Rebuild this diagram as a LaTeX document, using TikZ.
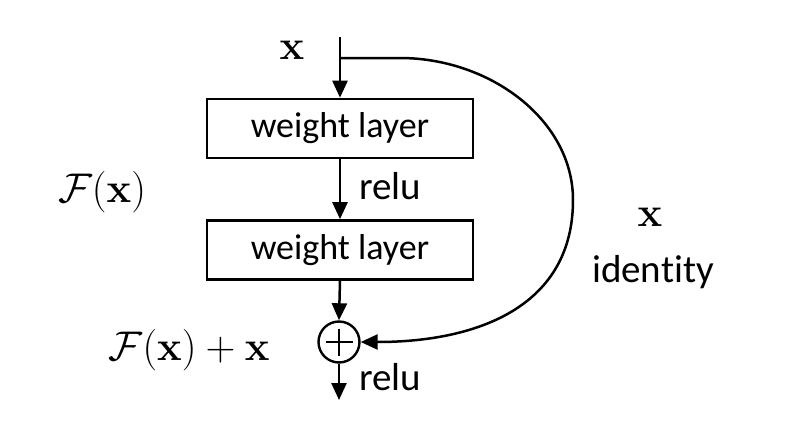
\documentclass[tikz,border=0pt]{standalone}
\usepackage[no-math]{fontspec}
\setmainfont{Carlito}[Ligatures=NoCommon]
\usetikzlibrary{arrows.meta}
\begin{document}
\begin{tikzpicture}[x=0.5pt,y=-0.5pt,
  layer/.style={draw,line width=1.3pt,minimum width=133pt,minimum height=29.5pt,inner sep=0pt,font=\fontsize{18}{20}\selectfont},
  conn/.style={line width=1.25pt,-{Triangle[length=8.5pt,width=7.5pt]}},
  lbl/.style={font=\fontsize{19.5}{22}\selectfont,inner sep=0pt},
  mlbl/.style={font=\fontsize{22}{26}\selectfont,inner sep=0pt},
  addop/.style={circle,draw,line width=1.2pt,minimum size=20.5pt,inner sep=0pt,
    path picture={\draw[line width=1.2pt] ([yshift=-3.5pt]path picture bounding box.north) -- ([yshift=3.5pt]path picture bounding box.south);
                  \draw[line width=1.2pt] ([xshift=3.5pt]path picture bounding box.west) -- ([xshift=-3.5pt]path picture bounding box.east);}}]
\useasboundingbox (0,0) rectangle (800,429);
\fill[white] (0,0) rectangle (800,429);
\coordinate (top) at (340,37);
\coordinate (br) at (340,58);
\coordinate (bot) at (339,400);
\node[layer] (w1) at (340,128.5) {weight layer};
\node[layer] (w2) at (340,250) {weight layer};
\node[addop] (plus) at (339,342) {};
\node[mlbl] (xin) at (292,50) {$\mathbf{x}$};
\node[lbl,anchor=west] (relu1) at (359,186) {relu};
\node[lbl,anchor=west] (relu2) at (359,377) {relu};
\node[mlbl] (fx) at (102,192) {$\mathcal{F}(\mathbf{x})$};
\node[mlbl] (fxx) at (189,350) {$\mathcal{F}(\mathbf{x})+\mathbf{x}$};
\node[mlbl] (xid) at (650,217) {$\mathbf{x}$};
\node[lbl] (idt) at (653,272) {identity};
\draw[conn] (top) -- (w1.north);
\draw[conn] (w1.south) -- (w2.north);
\draw[conn] (w2.south) -- (plus.north);
\draw[conn] (plus.south) -- (bot);
\draw[conn] (br) -- (400,58) .. controls (490,58) and (573,120) .. (573,200) .. controls (573,305) and (480,342) .. (plus.east);
\end{tikzpicture}
\end{document}
